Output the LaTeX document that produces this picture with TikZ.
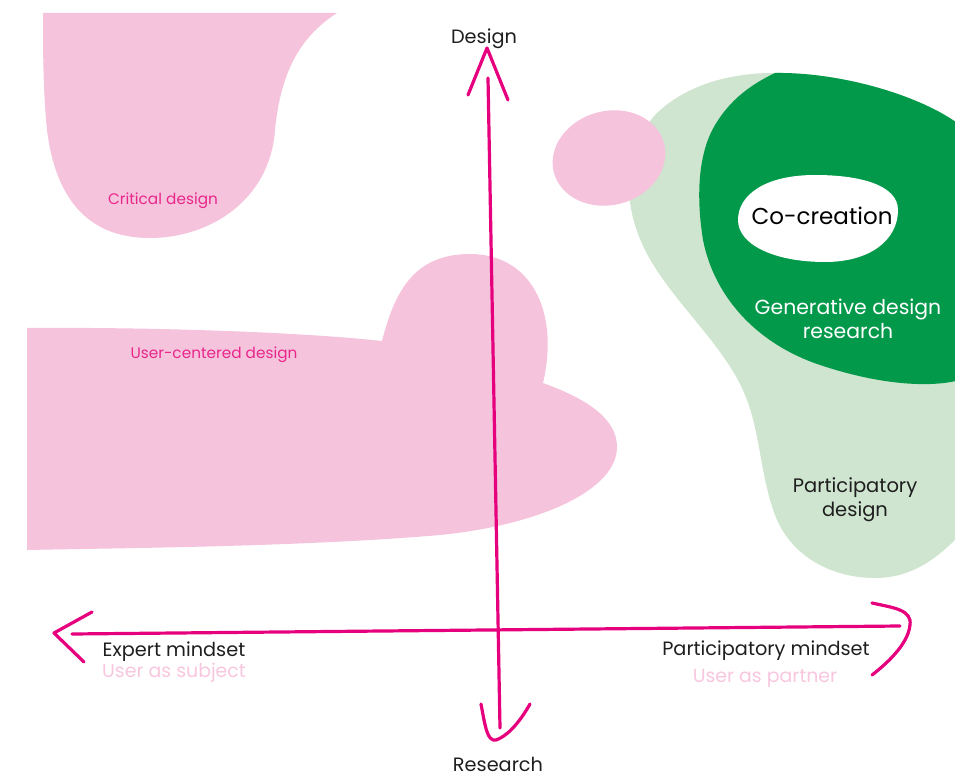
\documentclass[tikz,border=0pt]{standalone}
\usepackage{fontspec}
\setmainfont{Poppins}
\definecolor{blobpink}{HTML}{F5C3DC}
\definecolor{axismagenta}{HTML}{E6007E}
\definecolor{labelmagenta}{HTML}{E8278B}
\definecolor{softpink}{HTML}{F8C6DE}
\definecolor{palegreen}{HTML}{CFE5D0}
\definecolor{deepgreen}{HTML}{03994A}
\definecolor{inkgray}{HTML}{1E1E1E}
\begin{document}
\begin{tikzpicture}[x=1pt,y=-1pt,
  axisline/.style={draw=axismagenta,line width=3.2pt,line cap=round,line join=round},
  axislabel/.style={text=inkgray,font=\fontsize{19.3}{22}\selectfont,inner sep=0pt,anchor=base},
  rolelabel/.style={text=softpink,font=\fontsize{18.9}{22}\selectfont,inner sep=0pt,anchor=base},
  arealabel/.style={text=labelmagenta,font=\fontsize{15.3}{18}\selectfont,inner sep=0pt,anchor=base},
  greenlabel/.style={align=center,inner sep=0pt,anchor=base}]
\useasboundingbox (0,0) rectangle (955,775);
\clip (0,0) rectangle (955,775);

% Critical design area
\fill[blobpink] (43,13) -- (337,13)
  .. controls (295,40) and (280,80) .. (275,130)
  .. controls (270,200) and (210,238) .. (150,238)
  .. controls (85,238) and (55,195) .. (47,130)
  .. controls (43,90) and (43,50) .. (43,13) -- cycle;

% User-centered design area
\fill[blobpink] (27,328)
  .. controls (150,327) and (300,332) .. (382,341)
  .. controls (395,290) and (415,254) .. (470,254)
  .. controls (530,254) and (560,310) .. (543,383)
  .. controls (590,400) and (617,420) .. (617,447)
  .. controls (617,490) and (540,525) .. (440,535)
  .. controls (300,547) and (120,548) .. (27,550) -- cycle;

% Participatory design area
\fill[palegreen] (773,73)
  .. controls (840,72) and (920,95) .. (960,125) -- (960,535)
  .. controls (940,555) and (915,578) .. (875,578)
  .. controls (830,578) and (790,555) .. (775,515)
  .. controls (760,475) and (760,430) .. (745,395)
  .. controls (725,345) and (670,300) .. (645,250)
  .. controls (620,200) and (625,150) .. (655,115)
  .. controls (685,85) and (730,73) .. (773,73) -- cycle;

% Generative design research area
\fill[deepgreen] (775,73)
  .. controls (840,72) and (920,95) .. (960,125) -- (960,380)
  .. controls (930,388) and (880,385) .. (820,365)
  .. controls (760,345) and (715,300) .. (703,240)
  .. controls (695,190) and (700,150) .. (715,125)
  .. controls (730,100) and (750,85) .. (775,73) -- cycle;

% Co-creation core
\fill[white] (738,220)
  .. controls (738,195) and (765,175) .. (815,175)
  .. controls (860,175) and (898,185) .. (898,210)
  .. controls (898,240) and (870,262) .. (825,262)
  .. controls (775,262) and (738,245) .. (738,220) -- cycle;

% small pink area
\fill[blobpink, rotate around={15:(609,158)}] (609,158) ellipse [x radius=57, y radius=47];

% area labels
\node[arealabel] (critical) at (163,205) {Critical design};
\node[arealabel] (ucd) at (214,358) {User-centered design};
\node[greenlabel, text=black, font=\fontsize{23}{28}\selectfont] (cocreation) at (822,225) {Co-creation};
\node[greenlabel, text=white, font=\fontsize{20.4}{23.5}\selectfont] (generative) at (848,338) {Generative design\\research};
\node[greenlabel, text=inkgray, font=\fontsize{19.5}{23.5}\selectfont] (participatory) at (855,516) {Participatory\\design};

% axes
\coordinate (vtop) at (488,78);
\coordinate (vbottom) at (500,728);
\coordinate (hleft) at (72,634);
\coordinate (hright) at (900,626);
\draw[axisline] (vtop) -- (vbottom);
\draw[axisline] (hleft) -- (hright);
\coordinate (ut1) at (468,95);
\coordinate (utip) at (487,48);
\coordinate (ut2) at (508,100);
\draw[axisline] (ut1) -- (utip) -- (ut2);
\coordinate (dt1) at (481,704);
\coordinate (dtip) at (496,740);
\coordinate (dt2) at (530,704);
\draw[axisline] (dt1) .. controls (485,725) and (487,742) .. (dtip)
  .. controls (510,735) and (522,718) .. (dt2);
\coordinate (lt1) at (92,612);
\coordinate (ltip) at (54,633);
\coordinate (lt2) at (84,662);
\draw[axisline] (lt1) -- (ltip) -- (lt2);
\coordinate (rt1) at (872,603);
\coordinate (rtip) at (910,625);
\coordinate (rt2) at (872,675);
\draw[axisline] (rt1) .. controls (895,608) and (912,610) .. (rtip)
  .. controls (908,645) and (885,665) .. (rt2);

% axis labels
\node[axislabel] (design) at (484,44) {Design};
\node[axislabel] (research) at (498,771) {Research};
\node[axislabel] (expert) at (174,656) {Expert mindset};
\node[rolelabel] (subject) at (174,677) {User as subject};
\node[axislabel] (partmind) at (766,655) {Participatory mindset};
\node[rolelabel] (partner) at (765,682) {User as partner};
\end{tikzpicture}
\end{document}
